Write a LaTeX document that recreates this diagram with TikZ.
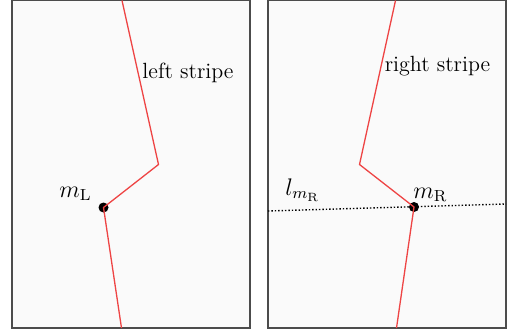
\documentclass[tikz,border=0pt]{standalone}
\usepackage{amsmath}
\usepackage{xcolor}
\definecolor{panelgray}{HTML}{FAFAFA}
\definecolor{stripered}{HTML}{EE4444}

\begin{document}
\begin{tikzpicture}[x=0.5pt, y=-0.5pt,
    panel/.style={draw=black!70, line width=0.7pt, fill=panelgray},
    stripe/.style={stripered, line width=0.65pt},
    midpt/.style={circle, fill=black, inner sep=0pt, minimum size=5pt},
    lbl/.style={font=\fontsize{11}{13}\selectfont},
    mlbl/.style={font=\fontsize{12}{14}\selectfont, inner sep=1pt}]
    \useasboundingbox[fill=white] (0,0) rectangle (518,332);
    % Draw the two panels
    \draw[panel] (12,0.5) rectangle (250,328);
    \draw[panel] (268,0.5) rectangle (506,328);
    % Left stripe with its midpoint
    \node[midpt] (mL) at (103.5,207.5) {};
    \coordinate (lTop) at (122,0.5);
    \coordinate (lKnee) at (158.5,164.5);
    \coordinate (lBot) at (121.5,328);
    \draw[stripe] (lTop) -- (lKnee) -- (mL.center) -- (lBot);
    \node[lbl] (lName) at (188,73) {left stripe};
    \node[mlbl, anchor=south east] (mLlbl) at (94,203) {$m_{\mathrm{L}}$};
    % Right stripe with its midpoint and the dotted line
    \coordinate (dLeft) at (268,211);
    \coordinate (dRight) at (506,204);
    \draw[densely dotted, line width=0.7pt] (dLeft) -- (dRight);
    \node[midpt] (mR) at (414,207) {};
    \coordinate (rTop) at (395.5,0.5);
    \coordinate (rKnee) at (359.5,164.5);
    \coordinate (rBot) at (396.5,328);
    \draw[stripe] (rTop) -- (rKnee) -- (mR.center) -- (rBot);
    \node[lbl] (rName) at (437.5,66) {right stripe};
    \node[mlbl, anchor=south west] (mRlbl) at (411,204) {$m_{\mathrm{R}}$};
    \node[mlbl, anchor=south west] (lmRlbl) at (283,204) {$l_{m_{\mathrm{R}}}$};
\end{tikzpicture}
\end{document}
